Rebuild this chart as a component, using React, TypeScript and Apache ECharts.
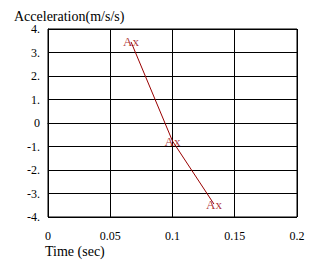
import React, { useEffect, useRef } from "react";
import * as echarts from "echarts";

const times = [0.0667, 0.1, 0.1333];
const accel = [3.45, -0.77, -3.45];
const pointLabel = "Ax";
const yTitle = "Acceleration(m/s/s)";
const xTitle = "Time (sec)";
const xTicks = [0, 0.05, 0.1, 0.15, 0.2];

const FONT = "Liberation Serif";
const RED = "#990000";

export default function App() {
  const ref = useRef<HTMLDivElement>(null);
  useEffect(() => {
    if (!ref.current) return;
    const chart = echarts.init(ref.current, undefined, { renderer: "svg" });
    const pts = times.map((t, i) => [t, accel[i]]);
    chart.setOption({
      animation: false,
      backgroundColor: "#fff",
      grid: { left: 48, right: 16, top: 29, bottom: 44, show: true, borderColor: "#000", borderWidth: 1 },
      xAxis: {
        type: "value",
        min: 0,
        max: 0.2,
        interval: 0.05,
        axisLine: { show: true, lineStyle: { color: "#000", width: 1 } },
        axisTick: { show: false },
        splitLine: { show: true, lineStyle: { color: "#000", width: 1 } },
        axisLabel: {
          color: "#000",
          fontFamily: FONT,
          fontSize: 12,
          margin: 13,
          formatter: (v: number) => {
            const found = xTicks.find((t) => Math.abs(t - v) < 1e-9);
            return found === undefined ? "" : String(found);
          },
        },
      },
      yAxis: {
        type: "value",
        min: -4,
        max: 4,
        interval: 1,
        axisLine: { show: true, lineStyle: { color: "#000", width: 1 } },
        axisTick: { show: false },
        splitLine: { show: true, lineStyle: { color: "#000", width: 1 } },
        axisLabel: {
          color: "#000",
          fontFamily: FONT,
          fontSize: 12,
          margin: 8,
          formatter: (v: number) => (v === 0 ? "0" : v + "."),
        },
      },
      graphic: [
        {
          type: "text",
          left: 14,
          top: 9,
          style: { text: yTitle, fontFamily: FONT, fontSize: 14, fill: "#000" },
        },
        {
          type: "text",
          left: 45,
          top: 244,
          style: { text: xTitle, fontFamily: FONT, fontSize: 14, fill: "#000" },
        },
      ],
      series: [
        {
          type: "line",
          data: pts,
          symbol: "none",
          lineStyle: { color: RED, width: 1 },
          z: 3,
        },
        {
          type: "scatter",
          data: pts,
          symbol: "rect",
          symbolSize: 1,
          itemStyle: { color: "transparent" },
          label: {
            show: true,
            position: "inside",
            formatter: pointLabel,
            color: RED,
            fontFamily: FONT,
            fontSize: 13,
          },
          z: 4,
        },
      ],
    });
    return () => chart.dispose();
  }, []);
  return (
    <div
      ref={ref}
      style={{ position: "absolute", left: 0, top: 0, width: 313, height: 261 }}
    />
  );
}
